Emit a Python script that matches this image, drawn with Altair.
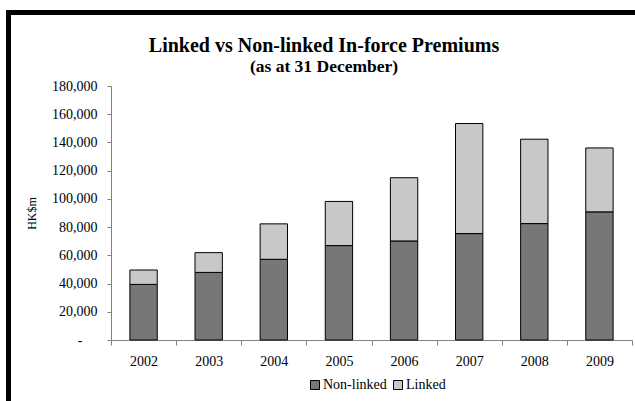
import altair as alt
import pandas as pd

# In-force premiums by year, HK$ million
years = ["2002", "2003", "2004", "2005", "2006", "2007", "2008", "2009"]
non_linked = [39400, 47900, 57200, 66900, 70200, 75400, 82500, 90800]
linked = [10200, 14000, 25100, 31300, 44800, 78000, 59800, 45300]
series = ["Non-linked", "Linked"]
series_colors = ["#777777", "#c8c8c8"]
y_ticks = [0, 20000, 40000, 60000, 80000, 100000, 120000, 140000, 160000, 180000]
title_lines = ["Linked vs Non-linked In-force Premiums", "(as at 31 December)"]

rows = []
for i, y in enumerate(years):
    rows.append({"year": y, "type": series[0], "value": non_linked[i], "order": 0})
    rows.append({"year": y, "type": series[1], "value": linked[i], "order": 1})
df = pd.DataFrame(rows)

FONT = "Liberation Serif"
AXIS_GRAY = "#808080"
W, H = 521, 254

bars = alt.Chart(df).mark_bar(
    width=alt.RelativeBandSize(0.42), stroke="black", strokeWidth=1
).encode(
    x=alt.X(
        "year:N",
        sort=years,
        scale=alt.Scale(paddingInner=0, paddingOuter=0),
        axis=alt.Axis(
            title=None,
            labelAngle=0,
            tickBand="extent",
            tickSize=5,
            labelPadding=9,
            labelFontSize=14,
            labelFont=FONT,
            labelColor="black",
            domainColor=AXIS_GRAY,
            tickColor=AXIS_GRAY,
        ),
    ),
    y=alt.Y(
        "value:Q",
        stack="zero",
        scale=alt.Scale(domain=[0, 180000], nice=False),
        axis=alt.Axis(
            title="HK$m",
            values=y_ticks,
            # accounting style: zero shown as a dash set in from the right
            labelExpr="datum.value == 0 ? '-' : format(datum.value, ',.0f')",
            labelPadding={"condition": {"test": "datum.value == 0", "value": 25}, "value": 10},
            grid=False,
            tickSize=4,
            labelFontSize=14,
            labelFont=FONT,
            labelColor="black",
            domainColor=AXIS_GRAY,
            tickColor=AXIS_GRAY,
            titleFont=FONT,
            titleFontSize=12,
            titleFontWeight="normal",
            titleColor="black",
            titleAngle=-90,
            titleX=-80,
            titleY=H / 2,
            titleAlign="center",
            titleBaseline="middle",
        ),
    ),
    color=alt.Color(
        "type:N",
        sort=series,
        scale=alt.Scale(domain=series, range=series_colors),
        legend=alt.Legend(
            title=None,
            orient="none",
            direction="horizontal",
            legendX=197,
            legendY=292,
            symbolType="square",
            symbolSize=81,
            symbolStrokeColor="black",
            symbolStrokeWidth=1,
            symbolOpacity=1,
            labelFont=FONT,
            labelFontSize=14,
            labelColor="black",
            labelOffset=1,
            columnPadding=4,
        ),
    ),
    order=alt.Order("order:Q"),
)

# Two-line chart heading
title_df = pd.DataFrame({"line": title_lines, "dy": [-40, -19], "size": [20, 17.5]})
heading = alt.Chart(title_df).mark_text(
    font=FONT, fontWeight="bold", color="black", baseline="middle", align="center"
).encode(
    text="line:N",
    x=alt.value(213),
    y=alt.Y("dy:Q", scale=None),
    size=alt.Size("size:Q", scale=None, legend=None),
)

# Frame lines along the top and left edges
frame_top = alt.Chart(title_df).mark_rule(color="black", strokeWidth=5).encode(
    x=alt.value(-105), x2=alt.value(W + 20), y=alt.value(-73.5)
)
frame_left = alt.Chart(title_df).mark_rule(color="black", strokeWidth=5).encode(
    x=alt.value(-102.5), y=alt.value(-76), y2=alt.value(H + 70)
)

chart = alt.layer(bars, heading, frame_top, frame_left).properties(
    width=W,
    height=H,
    autosize=alt.AutoSizeParams(type="none"),
    padding={"left": 111, "top": 86, "right": 3, "bottom": 61},
).configure(background="white", font=FONT).configure_view(stroke=None).configure_legend(
    labelFont=FONT, labelFontSize=14, labelColor="black"
)

chart.save("out.html", embed_options={"renderer": "svg", "actions": False})
